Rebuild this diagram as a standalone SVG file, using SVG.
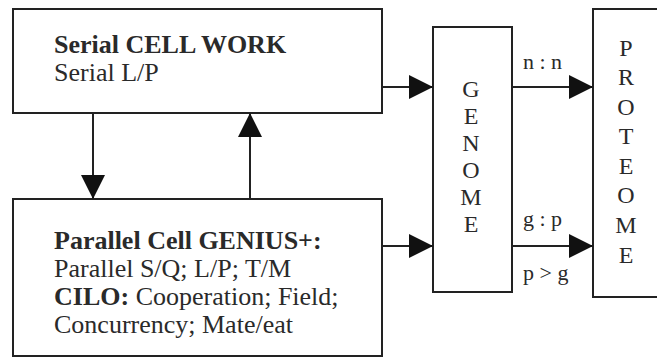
<svg xmlns="http://www.w3.org/2000/svg" width="657" height="358" viewBox="0 0 657 358">
<style>
.box{fill:#fff;stroke:#222;stroke-width:2}
.t{font-family:'Liberation Serif','Times New Roman',serif;fill:#2a2a2a}
.b{font-weight:bold}
.main{font-size:26px}
.v{font-size:24px;text-anchor:middle}
.lab{font-size:22px}
.con{stroke:#222;stroke-width:2;fill:none;marker-end:url(#ah)}
</style>
<defs>
<marker id="ah" markerUnits="userSpaceOnUse" markerWidth="24" markerHeight="24" refX="24" refY="12" orient="auto">
<path d="M0,0 L24,12 L0,24 z" fill="#111"/>
</marker>
</defs>
<rect width="657" height="358" fill="#fff"/>
<g id="serial">
<rect class="box" x="13" y="9" width="369" height="104"/>
<text class="t main b" x="54" y="53">Serial CELL WORK</text>
<text class="t main" x="54" y="81">Serial L/P</text>
</g>
<g id="parallel">
<rect class="box" x="13" y="199" width="369" height="157"/>
<text class="t main b" x="54" y="249">Parallel Cell GENIUS+:</text>
<text class="t main" x="54" y="277">Parallel S/Q; L/P; T/M</text>
<text class="t main" x="54" y="305"><tspan class="b">CILO:</tspan> Cooperation; Field;</text>
<text class="t main" x="54" y="333">Concurrency; Mate/eat</text>
</g>
<g id="genome">
<rect class="box" x="433" y="27" width="79" height="265"/>
<text class="t v" x="471" y="97">G</text>
<text class="t v" x="471" y="124">E</text>
<text class="t v" x="471" y="151">N</text>
<text class="t v" x="471" y="178">O</text>
<text class="t v" x="471" y="205">M</text>
<text class="t v" x="471" y="232">E</text>
</g>
<g id="proteome">
<rect class="box" x="593" y="9" width="70" height="288"/>
<text class="t v" x="626" y="56">P</text>
<text class="t v" x="626" y="85">R</text>
<text class="t v" x="626" y="115">O</text>
<text class="t v" x="626" y="144">T</text>
<text class="t v" x="626" y="174">E</text>
<text class="t v" x="626" y="203">O</text>
<text class="t v" x="626" y="233">M</text>
<text class="t v" x="626" y="263">E</text>
</g>
<g id="connectors">
<line class="con" x1="382" y1="87" x2="433" y2="87"/>
<line class="con" x1="382" y1="246" x2="433" y2="246"/>
<line class="con" x1="512" y1="87" x2="593" y2="87"/>
<line class="con" x1="512" y1="246" x2="593" y2="246"/>
<line class="con" x1="93" y1="113" x2="93" y2="199"/>
<line class="con" x1="250" y1="199" x2="250" y2="113"/>
<text class="t lab" x="523" y="69">n : n</text>
<text class="t lab" x="523" y="226">g : p</text>
<text class="t lab" x="523" y="280">p &gt; g</text>
</g>
</svg>
